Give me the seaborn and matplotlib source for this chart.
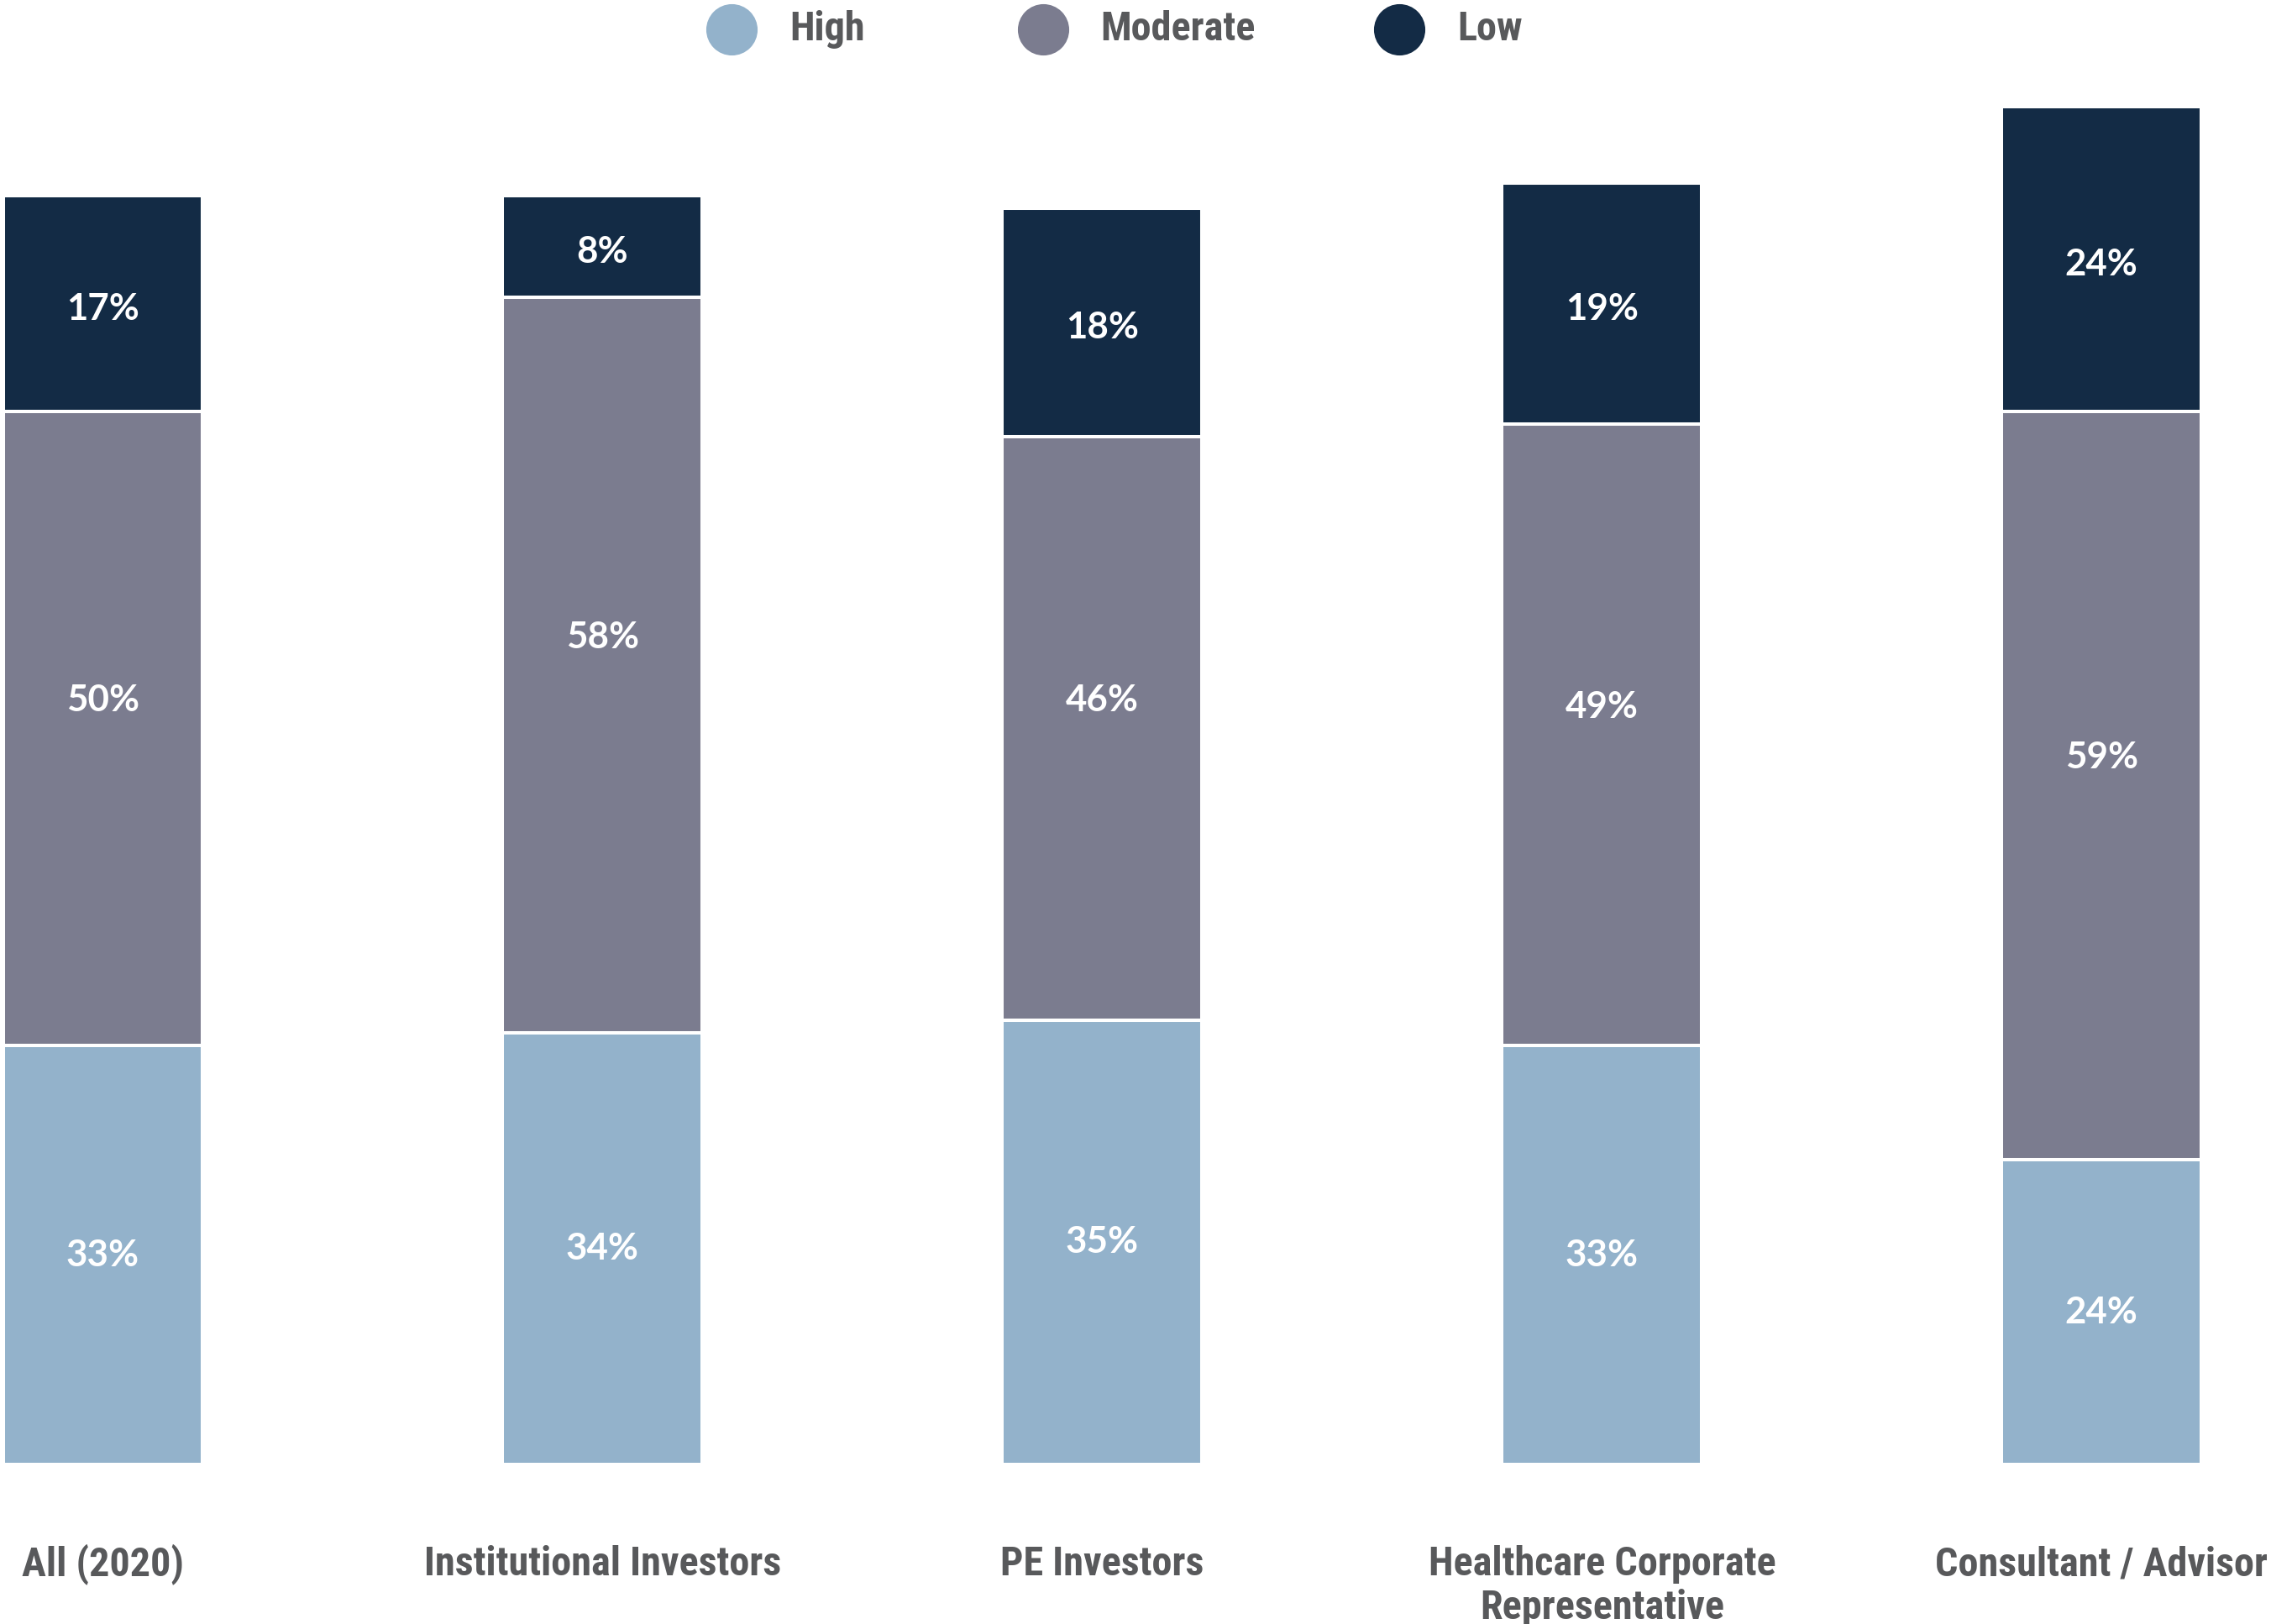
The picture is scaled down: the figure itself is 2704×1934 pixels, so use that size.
import matplotlib
matplotlib.use("Agg")
import matplotlib.pyplot as plt
from matplotlib import font_manager as fm
from matplotlib.lines import Line2D
import numpy as np
import pandas as pd
import seaborn as sns

# Survey shares (%) per respondent group
groups = ["All (2020)", "Institutional Investors", "PE Investors",
          "Healthcare Corporate\nRepresentative", "Consultant / Advisor"]
high = [33, 34, 35, 33, 24]
moderate = [50, 58, 46, 49, 59]
low = [17, 8, 18, 19, 24]

levels = ["High", "Moderate", "Low"]
colors = {"High": "#93B2CB", "Moderate": "#7B7C8F", "Low": "#132B45"}
text_gray = "#58595B"

sns.set_theme(style="white")

available = {f.name for f in fm.fontManager.ttflist}
cond_font = next((f for f in ["Roboto Condensed", "Liberation Sans Narrow",
                              "Open Sans Condensed", "Roboto", "DejaVu Sans"]
                  if f in available), "DejaVu Sans")
value_font = "Lato" if "Lato" in available else "DejaVu Sans"
plt.rcParams["font.family"] = [cond_font, "DejaVu Sans"]

df = pd.DataFrame({"group": groups, "High": high, "Moderate": moderate, "Low": low})
df["cum_high"] = df["High"]
df["cum_mod"] = df["High"] + df["Moderate"]
df["cum_low"] = df["High"] + df["Moderate"] + df["Low"]

fig = plt.figure(figsize=(13.52, 9.67), dpi=200)
ax = fig.add_axes([0.0, 0.0983, 1.0, 0.8593])

bar_w = 0.40
edge_lw = 1.45
# Stack by overlaying cumulative totals, tallest first
for col, lvl in [("cum_low", "Low"), ("cum_mod", "Moderate"), ("cum_high", "High")]:
    sns.barplot(data=df, x="group", y=col, color=colors[lvl], width=bar_w,
                saturation=1, edgecolor="white", linewidth=edge_lw, ax=ax,
                order=groups)

ax.set_xlim(-0.2059, 4.339)
ax.set_ylim(0, 110)
for p in ax.patches:
    p.set_clip_on(False)

# Segment value labels (the middle label sits a little above centre)
label_shift = {"High": 0.0, "Moderate": 2.2, "Low": -0.4}
for i in range(len(groups)):
    bottoms = [0, high[i], high[i] + moderate[i]]
    vals = [high[i], moderate[i], low[i]]
    for lvl, b, v in zip(levels, bottoms, vals):
        ax.text(i, b + v / 2 + label_shift[lvl], f"{v}%", ha="center", va="center",
                color="white", fontsize=15.8, fontweight="bold",
                family=[value_font, "DejaVu Sans"])

# Category labels beneath the bars, one text per line
ax.set_xticks([])
ax.set_yticks([])
ax.set_xlabel("")
ax.set_ylabel("")
axis_h_px = 0.8593 * 1934
line_step = 51.7 / axis_h_px
for i, g in enumerate(groups):
    for k, line in enumerate(g.split("\n")):
        ax.text(i, -0.0795 - k * line_step, line, transform=ax.get_xaxis_transform(),
                ha="center", va="baseline", color=text_gray,
                fontsize=17.4, fontweight="bold", clip_on=False)

sns.despine(ax=ax, left=True, bottom=True)

# Legend row across the top
leg_x = [0.3221, 0.4592, 0.6161]
leg_y = 1 - 20.5 / 1121
for x, lvl in zip(leg_x, levels):
    fig.add_artist(Line2D([x], [leg_y], marker="o", markersize=21, linestyle="none",
                          markerfacecolor=colors[lvl], markeredgecolor=colors[lvl],
                          transform=fig.transFigure))
    fig.text(x + 40 / 1568, leg_y, lvl, ha="left", va="center", color=text_gray,
             fontsize=17.4, fontweight="bold")

fig.savefig("out.png", dpi=200, facecolor="white")
